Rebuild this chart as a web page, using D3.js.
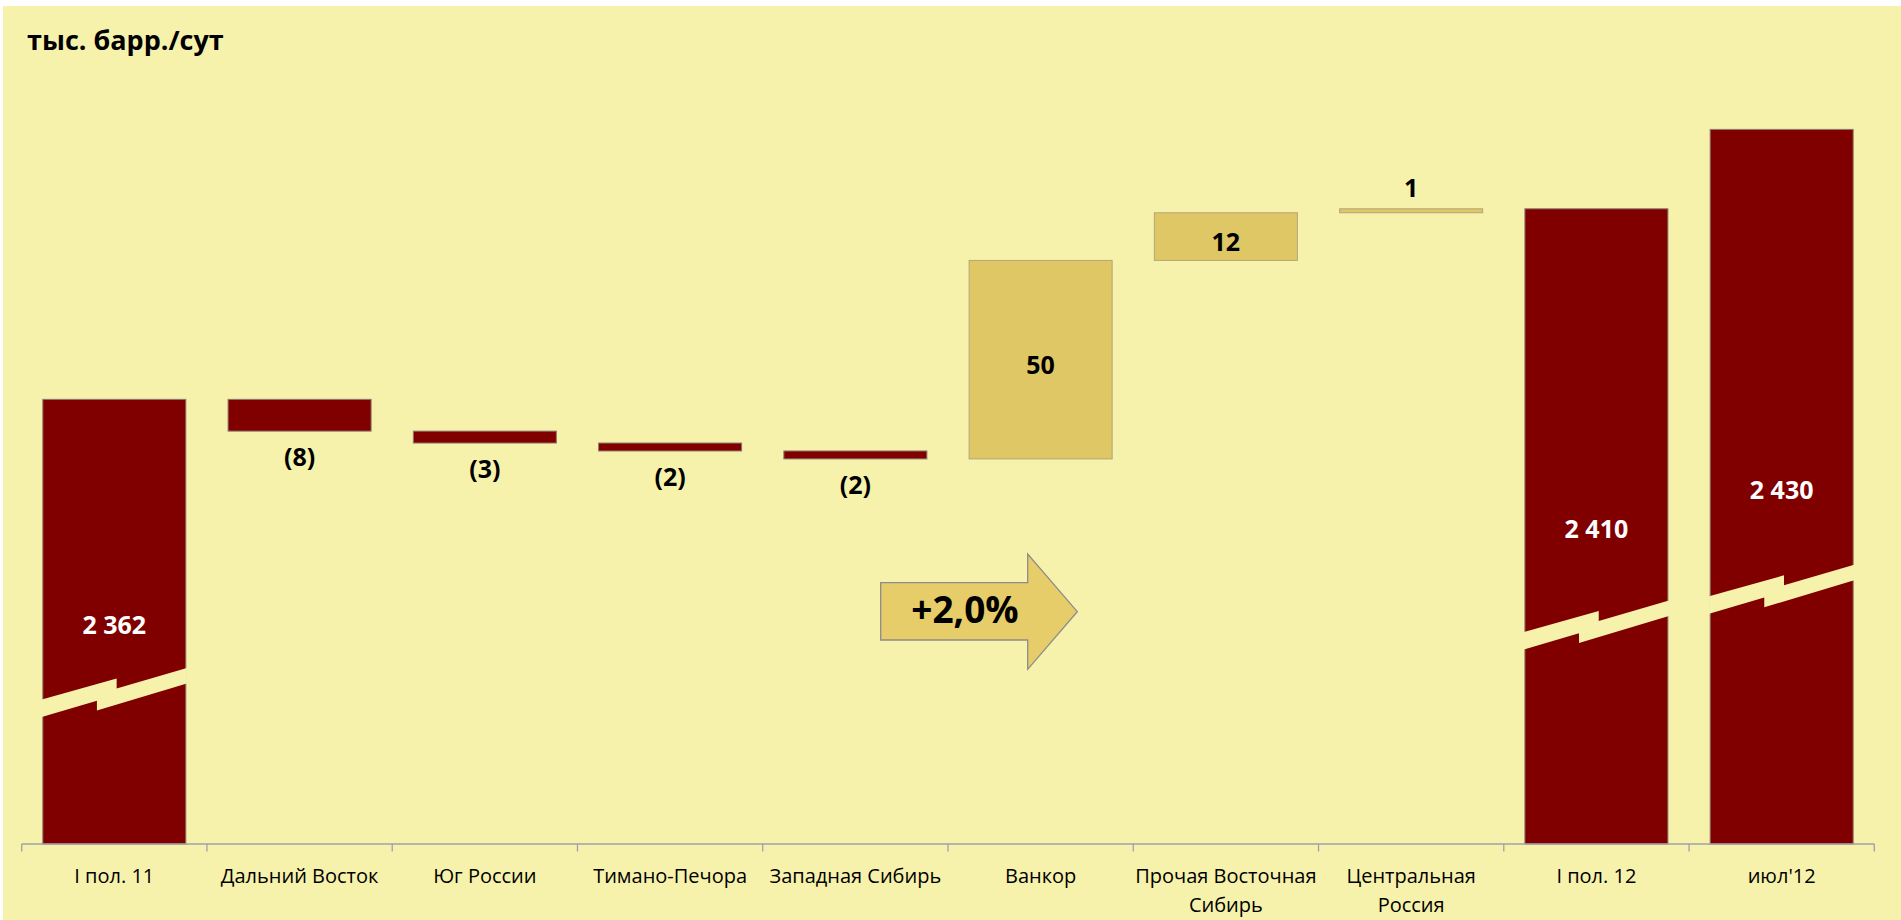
<!DOCTYPE html>
<html>
<head>
<meta charset="utf-8">
<script src="https://cdn.jsdelivr.net/npm/d3@7"></script>
<style>
  html, body { margin: 0; padding: 0; background: #ffffff; }
  svg { display: block; }
  text { font-family: "Open Sans", "Noto Sans", sans-serif; }
</style>
</head>
<body>
<svg id="chart" width="1901" height="920"></svg>
<script>
// ---- data ----
const categories = ["I пол. 11", "Дальний Восток", "Юг России", "Тимано-Печора", "Западная Сибирь",
                    "Ванкор", "Прочая Восточная\nСибирь", "Центральная\nРоссия", "I пол. 12", "июл'12"];
const kinds = ["total", "delta", "delta", "delta", "delta", "delta", "delta", "delta", "total", "total"];
const values = [2362, -8, -3, -2, -2, 50, 12, 1, 2410, 2430];
const valueLabels = ["2 362", "(8)", "(3)", "(2)", "(2)", "50", "12", "1", "2 410", "2 430"];
const breakLevels = [2286.4, null, null, null, null, null, null, null, 2303.4, 2312.4];
const yDomain = [2250, 2450];
const unitTitle = "тыс. барр./сут";
const growthLabel = "+2,0%";

// ---- layout ----
const W = 1901, H = 920;
const bgColor = "#f7f2ab";
const darkColor = "#800000";
const lightColor = "#dfc766";
const svg = d3.select("#chart");

svg.append("rect").attr("x", 3).attr("y", 6).attr("width", W - 3).attr("height", H - 6).attr("fill", bgColor);

const x = d3.scaleBand().domain(categories).range([21.7, 1874.3]).paddingInner(0.228).paddingOuter(0.114);
const y = d3.scaleLinear().domain(yDomain).range([844, 50]);

// waterfall geometry
let running = 0;
const bars = categories.map((c, i) => {
  let lo, hi;
  if (kinds[i] === "total") { lo = yDomain[0]; hi = values[i]; running = values[i]; }
  else { const start = running; running += values[i]; lo = Math.min(start, running); hi = Math.max(start, running); }
  return { cat: c, kind: kinds[i], v: values[i], lo, hi, label: valueLabels[i], brk: breakLevels[i] };
});

const g = svg.append("g");
g.selectAll("rect.bar").data(bars).join("rect")
  .attr("class", "bar")
  .attr("x", d => x(d.cat))
  .attr("width", x.bandwidth())
  .attr("y", d => y(d.hi))
  .attr("height", d => Math.max(1, y(d.lo) - y(d.hi)))
  .attr("fill", d => (d.kind === "total" || d.v < 0) ? darkColor : lightColor)
  .attr("stroke", d => (d.kind === "total" || d.v < 0) ? "#8a7a70" : "#b0a67a")
  .attr("stroke-width", 1);

// axis break bands
const bw = x.bandwidth();
g.selectAll("path.brk").data(bars.filter(d => d.brk !== null)).join("path")
  .attr("class", "brk")
  .attr("fill", bgColor)
  .attr("d", d => {
    const x0 = x(d.cat) - 1, w = bw + 2, yb = y(d.brk);
    const pts = [[0, 0], [0.516 * w, -21], [0.516 * w, -11], [w, -31.5], [w, -16],
                 [0.38 * w, 11], [0.38 * w, 1.3], [0, 17.5]];
    return "M" + pts.map(p => [x0 + p[0], yb + p[1]].join(",")).join("L") + "Z";
  });

// x axis
const axisG = svg.append("g").attr("transform", `translate(0,${y(yDomain[0])})`);
const [r0, r1] = x.range();
axisG.append("line").attr("x1", r0).attr("x2", r1).attr("y1", 0).attr("y2", 0)
  .attr("stroke", "#a0a0a8").attr("stroke-width", 1.3);
const step = x.step();
axisG.selectAll("line.tick").data(d3.range(categories.length + 1)).join("line")
  .attr("class", "tick")
  .attr("x1", i => r0 + i * step).attr("x2", i => r0 + i * step)
  .attr("y1", 0).attr("y2", 7.5)
  .attr("stroke", "#a0a0a8").attr("stroke-width", 1.3);

const lab = axisG.selectAll("text.cat").data(categories).join("text")
  .attr("class", "cat")
  .attr("text-anchor", "middle")
  .attr("font-size", 20)
  .attr("fill", "#000");
lab.each(function (c) {
  const lines = c.split("\n");
  d3.select(this).selectAll("tspan").data(lines).join("tspan")
    .attr("x", x(c) + bw / 2)
    .attr("y", (l, j) => 39 + j * 29)
    .text(l => l);
});

// value labels
g.selectAll("text.val").data(bars).join("text")
  .attr("class", "val")
  .attr("text-anchor", "middle")
  .attr("font-weight", "bold")
  .attr("x", d => x(d.cat) + bw / 2)
  .attr("y", d => {
    if (d.kind === "total") return (y(d.lo) + y(d.hi)) / 2 + 2;
    if (d.v < 0) return y(d.lo) + 25;
    if (y(d.lo) - y(d.hi) < 30) return y(d.hi) - 22;
    return (y(d.lo) + y(d.hi)) / 2 + 4;
  })
  .attr("dominant-baseline", "central")
  .attr("font-size", 25)
  .attr("fill", d => d.kind === "total" ? "#ffffff" : "#000000")
  .text(d => d.label);

// title
svg.append("text").attr("x", 27).attr("y", 50)
  .attr("font-weight", "bold").attr("font-size", 27).attr("fill", "#000")
  .text(unitTitle);

// growth arrow
const arrowPts = [[880.7, 582.7], [1027.7, 582.7], [1027.7, 554], [1077.3, 611.7],
                  [1027.7, 669.3], [1027.7, 640], [880.7, 640]];
svg.append("path")
  .attr("d", d3.line()(arrowPts) + "Z")
  .attr("fill", "#e6cd6a").attr("stroke", "#8c8c8c").attr("stroke-width", 1.3);
svg.append("text").attr("x", 965).attr("y", 622.7)
  .attr("text-anchor", "middle").attr("font-weight", "bold").attr("font-size", 37)
  .attr("fill", "#000").text(growthLabel);
</script>
</body>
</html>
